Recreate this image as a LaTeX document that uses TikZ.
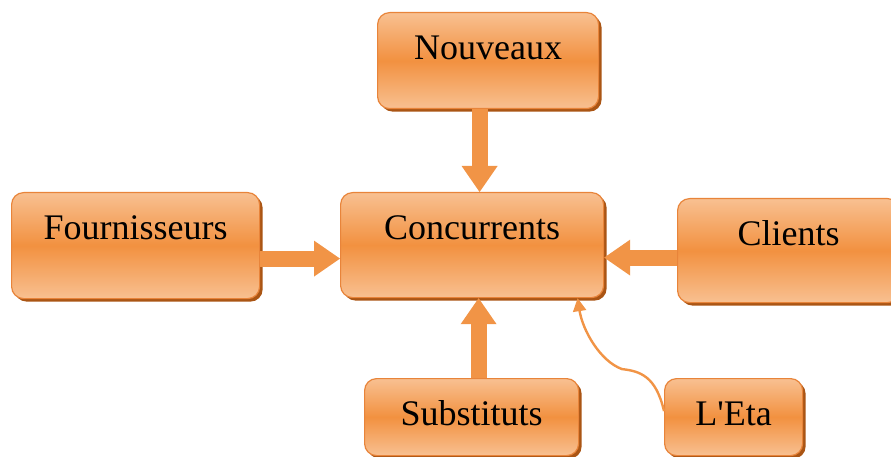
\documentclass[tikz,border=0pt]{standalone}
\usepackage{fontspec}
\setmainfont{Liberation Serif}
\newfontfamily\plainserif{Liberation Serif}
\usetikzlibrary{arrows.meta,shadows}
\definecolor{obord}{RGB}{232,132,58}
\definecolor{otop}{RGB}{248,192,145}
\definecolor{omid}{RGB}{242,145,64}
\definecolor{oshadow}{RGB}{170,85,20}
\definecolor{oarrow}{RGB}{241,148,70}
\tikzset{
  box/.style={draw=obord, line width=1.2pt, rounded corners=12pt,
    top color=otop, bottom color=otop, middle color=omid,
    anchor=north west, inner sep=10pt, text height=37pt,
    font=\plainserif\fontsize{36}{43}\selectfont,
    drop shadow={shadow xshift=3pt, shadow yshift=-3pt, fill=oshadow, opacity=1}},
  blk/.style={draw=oarrow, line width=16pt,
    -{Triangle[width=36pt,length=26pt,line width=0pt 0]}},
  thinarr/.style={draw=oarrow, line width=2.4pt,
    -{Triangle[width=13pt,length=13pt]}},
}
\begin{document}
\begin{tikzpicture}[x=1pt,y=-1pt]
\useasboundingbox (0,0) rectangle (891,457);
\clip (0,0) rectangle (891,457);
\node[box, minimum width=248pt, minimum height=106pt, text depth=49pt] (four) at (11,192) {Fournisseurs};
\node[box, minimum width=263pt, minimum height=105pt, text depth=48pt] (conc) at (340,192) {Concurrents};
\node[box, minimum width=221pt, minimum height=96pt, text depth=39pt] (nouv) at (377,12) {Nouveaux};
\node[box, minimum width=222pt, minimum height=104pt, text depth=47pt] (cli) at (677,198) {Clients};
\node[box, minimum width=214pt, minimum height=77pt, text depth=20pt] (sub) at (364,378) {Substituts};
\node[box, minimum width=138pt, minimum height=77pt, text depth=20pt] (leta) at (664,378) {L'Eta};
\draw[blk] ([xshift=-8.5pt]nouv.south) -- ([xshift=7.5pt]conc.north);
\draw[blk] ([yshift=-13pt]four.east) -- ([yshift=-13.5pt]conc.west);
\draw[blk] ([yshift=-7pt]cli.west) -- ([yshift=-12.5pt]conc.east);
\draw[blk] ([xshift=7pt]sub.north) -- ([xshift=6.5pt]conc.south);
\draw[thinarr] ([yshift=6pt]leta.west) .. controls +(-8,-35) and +(18,2) .. ++(-42,-42)
  .. controls +(-22,-8) and +(5,32) .. ([xshift=105.5pt]conc.south);
\end{tikzpicture}
\end{document}
